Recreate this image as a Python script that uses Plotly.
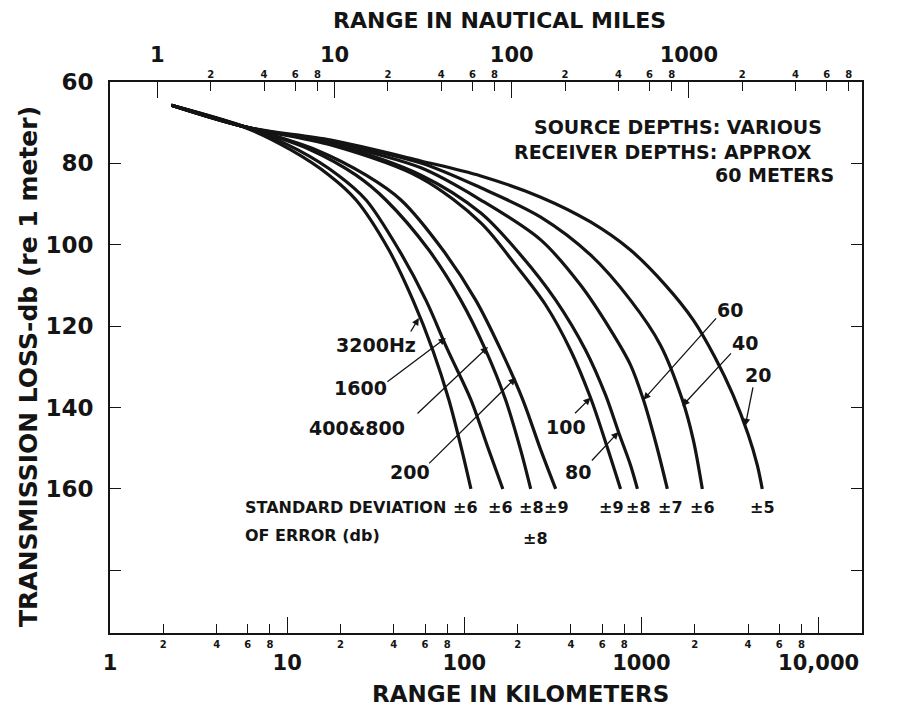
import math
import plotly.graph_objects as go

KM_PER_NMI = 1.852
FONT = "DejaVu Sans"
INK = "#141414"

# ---------------- data (range in km, transmission loss in dB) ----------------
freq_labels = ["3200Hz", "1600", "400&800", "200", "100", "80", "60", "40", "20"]

r_3200 = [2.22, 5.87, 10.5, 17.25, 24.5, 37.55, 51.3, 66.4, 81.8, 96.8, 109]
tl_3200 = [65.7, 71.3, 76.7, 82.9, 89.0, 101.3, 113.6, 125.9, 138.1, 150.4, 160]

r_1600 = [2.22, 5.87, 11.5, 19.4, 27.9, 42.8, 60.7, 80.7, 109, 137.4, 165]
tl_1600 = [65.7, 71.1, 76.7, 82.9, 89.0, 101.3, 113.6, 125.9, 138.1, 150.4, 160]

r_400_800 = [2.22, 5.87, 13.6, 24.5, 36.1, 63.1, 95.5, 132, 171, 208, 237]
tl_400_800 = [65.7, 71.1, 76.7, 82.9, 89.0, 101.3, 113.6, 125.9, 138.1, 150.4, 160]

r_200 = [2.22, 5.87, 14.6, 27.9, 43.9, 75.7, 116, 161, 214, 270, 328]
tl_200 = [65.7, 71.1, 76.7, 82.9, 89.0, 101.3, 113.6, 125.9, 138.1, 150.4, 160]

r_100 = [2.22, 5.87, 17.7, 56.9, 124, 195, 288, 398, 516, 635, 762]
tl_100 = [65.7, 71.1, 75.5, 83.6, 94.6, 105.0, 114.8, 125.9, 137.6, 149.2, 160]

r_80 = [2.22, 5.87, 17.7, 56.9, 124, 208, 328, 484, 627, 742, 867, 949]
tl_80 = [65.7, 71.1, 75.2, 82.9, 92.2, 102.5, 113.6, 125.9, 136.9, 146.0, 154.1, 160]

r_60 = [2.22, 5.87, 17.7, 56.9, 124, 270, 453, 669, 867, 1026, 1214, 1400]
tl_60 = [65.7, 71.1, 75.0, 81.1, 89.0, 98.8, 109.9, 120.9, 129.5, 138.1, 149.2, 160]

r_40 = [2.22, 5.87, 17.7, 56.9, 124, 270, 516, 867, 1279, 1702, 1963, 2206]
tl_40 = [65.7, 71.1, 74.7, 79.9, 86.0, 93.2, 102.5, 113.6, 124.6, 138.1, 148.0, 160]

r_20 = [2.22, 5.87, 17.7, 56.9, 124, 270, 516, 867, 1365, 1963, 2612, 3288, 4009, 4504, 4808]
tl_20 = [65.7, 71.1, 74.3, 79.4, 83.1, 88.3, 94.4, 101.3, 109.9, 118.5, 127.8, 136.9, 146.7, 154.1, 160]

curves_r = [r_3200, r_1600, r_400_800, r_200, r_100, r_80, r_60, r_40, r_20]
curves_tl = [tl_3200, tl_1600, tl_400_800, tl_200, tl_100, tl_80, tl_60, tl_40, tl_20]

# standard deviation of error labels (placed under the curve ends, km)
sd_text = ["±6", "±6", "±8", "±9", "±9", "±8", "±7", "±6", "±5"]
sd_r = [102, 161, 240, 333, 678, 962, 1456, 2206, 4808]
sd_extra_text = "±8"
sd_extra_r = 253

# arrow tips for frequency labels (km, dB)
tip_r = [55.4, 78.7, 136, 195, 516, 742, 1026, 1702, 3855]
tip_tl = [118.0, 122.9, 125.1, 132.7, 137.6, 146.0, 138.1, 139.6, 144.5]

# axes
y_ticks = [60, 80, 100, 120, 140, 160, 180]
y_ticktext = ["60", "80", "100", "120", "140", "160", ""]
km_major = [1, 10, 100, 1000, 10000]
km_major_text = ["1", "10", "100", "1000", "10,000"]
km_minor = [2, 4, 6, 8, 20, 40, 60, 80, 200, 400, 600, 800, 2000, 4000, 6000, 8000]
km_minor_text = ["2", "4", "6", "8"] * 4
nmi_major = [1, 10, 100, 1000]
nmi_major_text = ["1", "10", "100", "1000"]
nmi_minor = [2, 4, 6, 8, 20, 40, 60, 80, 200, 400, 600, 800, 2000, 4000, 6000, 8000]
nmi_minor_text = ["2", "4", "6", "8"] * 4

km_range = [0.0, 4.245]           # log10(km)
y_range = [195.4, 60]

# ---------------- figure ----------------
fig = go.Figure()
for r, tl in zip(curves_r, curves_tl):
    fig.add_trace(go.Scatter(x=r, y=tl, mode="lines",
                             line=dict(color=INK, width=3.2, shape="spline", smoothing=0.9),
                             showlegend=False, hoverinfo="skip"))

# invisible traces to activate the overlay axes
for ax_name in ["x2", "x3", "x4"]:
    fig.add_trace(go.Scatter(x=[10], y=[100], xaxis=ax_name, mode="markers",
                             marker=dict(opacity=0), showlegend=False, hoverinfo="skip"))

def b(t):
    return "<b>" + t + "</b>"

nmi_off = math.log10(KM_PER_NMI)
nmi_range = [km_range[0] - nmi_off, km_range[1] - nmi_off]

common = dict(showgrid=False, zeroline=False, automargin=False, tickcolor=INK, tickwidth=1.4)

# plot area in window pixels: x 110..862, y 82..633 (page body adds an 8 px offset)
PX0, PX1, PY0, PY1 = 110, 862, 82, 633
def px(x):
    return (x - PX0) / (PX1 - PX0)
def py(y):
    return (PY1 - y) / (PY1 - PY0)

fig.update_layout(
    template="none",
    width=891, height=706,
    margin=dict(l=102, r=37, t=74, b=81, autoexpand=False),
    paper_bgcolor="white", plot_bgcolor="white",
    font=dict(family=FONT, color=INK),
    xaxis=dict(type="log", range=km_range, domain=[0, 1],
               showline=True, linecolor=INK, linewidth=1.6,
               tickmode="array", tickvals=km_major, ticktext=[b(t) for t in km_major_text],
               ticks="inside", ticklen=16,
               tickfont=dict(size=21, family=FONT, color=INK), ticklabelstandoff=10, **common),
    xaxis3=dict(type="log", range=km_range, overlaying="x", side="bottom", anchor="y",
                showline=False,
                tickmode="array", tickvals=km_minor, ticktext=[b(t) for t in km_minor_text],
                ticks="inside", ticklen=9,
                tickfont=dict(size=10, family=FONT, color=INK), ticklabelstandoff=4, **common),
    xaxis2=dict(type="log", range=nmi_range, overlaying="x", side="top", anchor="y",
                showline=True, linecolor=INK, linewidth=1.6,
                tickmode="array", tickvals=nmi_major, ticktext=[b(t) for t in nmi_major_text],
                ticks="inside", ticklen=16,
                tickfont=dict(size=21, family=FONT, color=INK), ticklabelstandoff=10, **common),
    xaxis4=dict(type="log", range=nmi_range, overlaying="x", side="top", anchor="y",
                showline=False,
                tickmode="array", tickvals=nmi_minor, ticktext=[b(t) for t in nmi_minor_text],
                ticks="inside", ticklen=9,
                tickfont=dict(size=10, family=FONT, color=INK), ticklabelstandoff=1, **common),
    yaxis=dict(range=y_range, domain=[0, 1],
               showline=True, linecolor=INK, linewidth=1.6, mirror="ticks",
               tickmode="array", tickvals=y_ticks, ticktext=[b(t) for t in y_ticktext],
               ticks="inside", ticklen=11,
               tickfont=dict(size=23, family=FONT, color=INK), ticklabelstandoff=10, **common),
)

ann = []
def text_ann(t, x, y, size, xanchor="center", **kw):
    d = dict(text=b(t), xref="paper", yref="paper", x=x, y=y, showarrow=False,
             xanchor=xanchor, yanchor="middle", font=dict(size=size, family=FONT, color=INK))
    d.update(kw)
    return d

# axis titles
ann.append(text_ann("RANGE IN NAUTICAL MILES", px(500), py(21), 22))
ann.append(text_ann("RANGE IN KILOMETERS", px(520), py(694), 23))
ann.append(text_ann("TRANSMISSION LOSS-db (re 1 meter)", px(29), py(367), 25, textangle=-90))
# 10,000 nautical miles label (just beyond the axis end)
ann.append(dict(text=b("10,000"), xref="x2", yref="paper", x=4, y=py(55),
                xanchor="right", yanchor="middle", showarrow=False,
                font=dict(size=21, family=FONT, color=INK)))
# depth note
ann.append(text_ann("SOURCE DEPTHS: VARIOUS", px(824), py(127), 19, xanchor="right"))
ann.append(text_ann("RECEIVER DEPTHS: APPROX", px(814), py(152), 19, xanchor="right"))
ann.append(text_ann("60 METERS", px(836), py(175), 19, xanchor="right"))
# standard deviation
ann.append(text_ann("STANDARD DEVIATION", px(243), py(507), 16, xanchor="left"))
ann.append(text_ann("OF ERROR (db)", px(243), py(535), 16, xanchor="left"))
for t, r in zip(sd_text, sd_r):
    ann.append(dict(text=b(t), xref="x", yref="paper", x=math.log10(r), y=py(507),
                    xanchor="center", yanchor="middle", showarrow=False,
                    font=dict(size=16, family=FONT, color=INK)))
ann.append(dict(text=b(sd_extra_text), xref="x", yref="paper", x=math.log10(sd_extra_r),
                y=py(538), xanchor="center", yanchor="middle", showarrow=False,
                font=dict(size=16, family=FONT, color=INK)))

# frequency labels (window px position) and arrows (tail offsets in px)
label_pos = [(376, 345), (360, 388), (357, 428), (410, 472), (566, 427),
             (578, 472), (730, 310), (745, 343), (758, 375)]
arrow_tail = [(-9, 15), (-60, 45), (-72, 68), (-88, 87), (-17, 17),
              (-28, 30), (74, -83), (50, -54), (8, -40)]
for lab, (lx, ly), r, tl, (ax, ay) in zip(freq_labels, label_pos, tip_r, tip_tl, arrow_tail):
    ann.append(text_ann(lab, px(lx), py(ly), 19))
    ann.append(dict(text="", xref="x", yref="y", x=math.log10(r), y=tl,
                    ax=ax, ay=ay, axref="pixel", ayref="pixel",
                    showarrow=True, arrowhead=2, arrowsize=1.1, arrowwidth=1.3,
                    arrowcolor=INK))

fig.update_layout(annotations=ann)
fig.write_html("out.html")
